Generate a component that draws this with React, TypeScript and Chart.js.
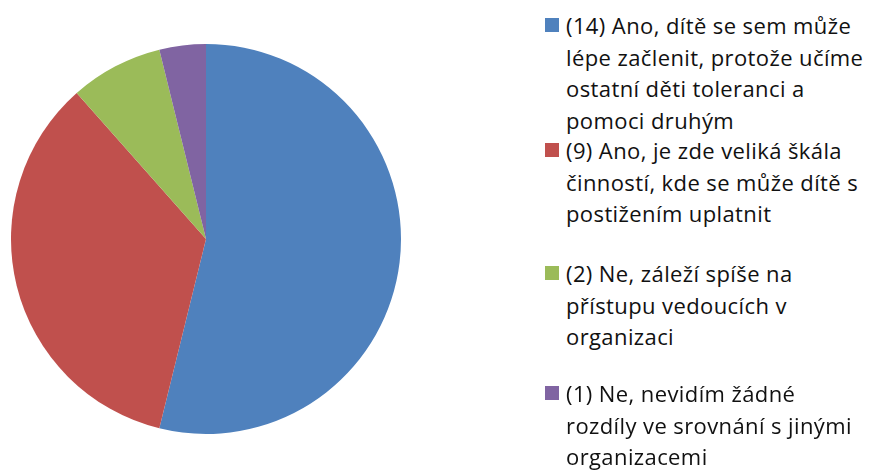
import React, { useEffect, useRef } from "react";
import { Chart, registerables } from "chart.js";

Chart.register(...registerables);

const categories = [
  "(14) Ano, dítě se sem může\nlépe začlenit, protože učíme\nostatní děti toleranci a\npomoci druhým",
  "(9) Ano, je zde veliká škála\nčinností, kde se může dítě s\npostižením uplatnit",
  "(2) Ne, záleží spíše na\npřístupu vedoucích v\norganizaci",
  "(1) Ne, nevidím žádné\nrozdíly ve srovnání s jinými\norganizacemi",
];
const values = [14, 9, 2, 1];
const colors = ["#4F81BD", "#C0504D", "#9BBB59", "#8064A2"];
const legendTops = [10, 135, 258, 378];

export default function App() {
  const ref = useRef<HTMLCanvasElement>(null);
  useEffect(() => {
    const chart = new Chart(ref.current!, {
      type: "pie",
      data: {
        labels: categories,
        datasets: [
          {
            data: values,
            backgroundColor: colors,
            borderWidth: 0,
          },
        ],
      },
      options: {
        responsive: false,
        animation: false,
        layout: { padding: { left: 11, right: 11, top: 44, bottom: 38 } },
        plugins: { legend: { display: false }, tooltip: { enabled: false } },
      },
    });
    return () => chart.destroy();
  }, []);
  return (
    <div
      style={{
        position: "fixed",
        left: 0,
        top: 0,
        width: 874,
        height: 472,
        background: "#fff",
      }}
    >
      <canvas
        ref={ref}
        width={412}
        height={472}
        style={{ position: "absolute", left: 0, top: 0 }}
      />
      {categories.map((c, i) => (
        <div
          key={i}
          style={{
            position: "absolute",
            left: 545,
            top: legendTops[i],
            display: "flex",
            alignItems: "flex-start",
          }}
        >
          <div
            style={{
              width: 14,
              height: 14,
              background: colors[i],
              marginTop: 8,
              marginRight: 7,
              flex: "none",
            }}
          />
          <div
            style={{
              whiteSpace: "pre",
              fontFamily: "'Open Sans', sans-serif",
              fontSize: 22,
              letterSpacing: 0.4,
              lineHeight: "31.5px",
              color: "#111",
            }}
          >
            {c}
          </div>
        </div>
      ))}
    </div>
  );
}
